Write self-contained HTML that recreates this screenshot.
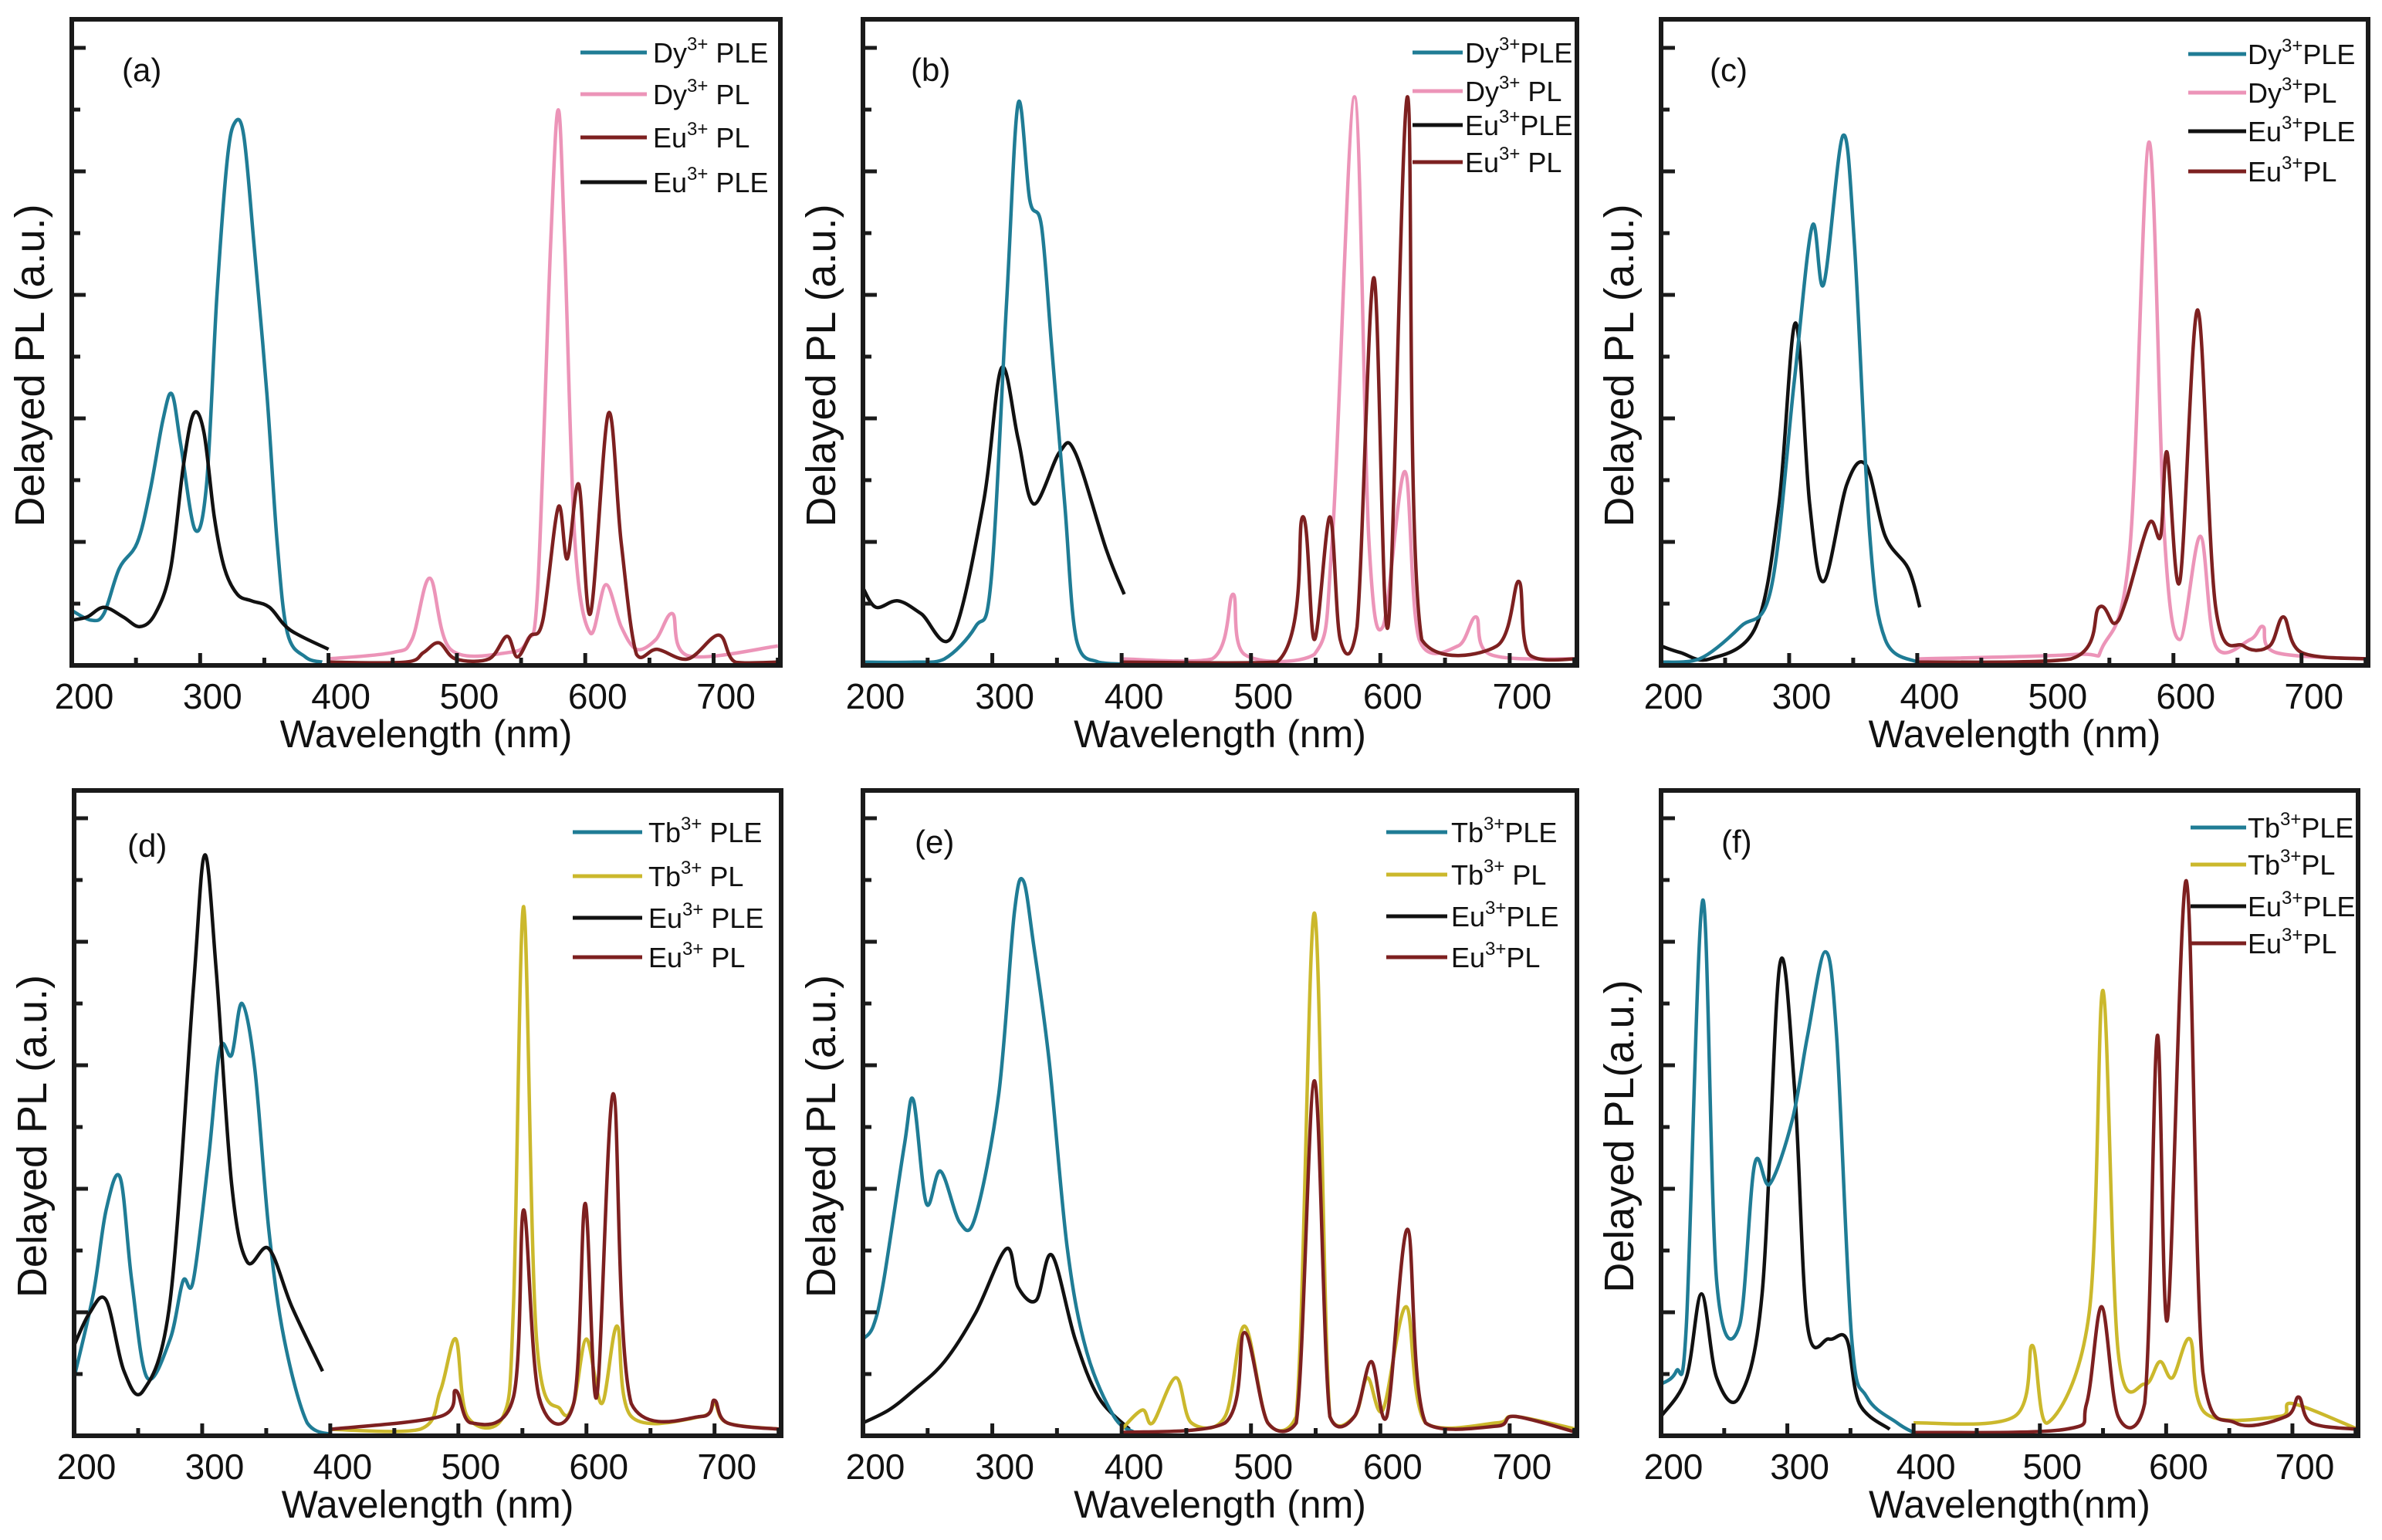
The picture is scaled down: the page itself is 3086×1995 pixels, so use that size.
<!DOCTYPE html>
<html><head><meta charset="utf-8"><style>
html,body{margin:0;padding:0;background:#fff;}
svg{display:block;font-family:"Liberation Sans",sans-serif;}
</style></head><body>
<svg id="fig" width="3086" height="1995" viewBox="0 0 3086 1995" xmlns="http://www.w3.org/2000/svg"></svg>
<script>
const NS="http://www.w3.org/2000/svg";
const C={teal:"#1f7c95",pink:"#ec94b8",red:"#7d2020",black:"#111111",yellow:"#cbb82c"};
// ---- data: wavelength (nm) and normalized intensity (fraction of frame height) ----
const aDyPLEwl=[200,215,225,237,251,261,271,278,285,296,305,313,321,327,334,342,352,360,368,382,395];
const aDyPLEv=[0.085,0.07,0.08,0.15,0.19,0.27,0.38,0.42,0.34,0.21,0.28,0.57,0.78,0.84,0.82,0.65,0.42,0.19,0.05,0.013,0.005];
const aEuPLEwl=[200,212,225,240,253,265,277,287,295,303,311,319,329,340,354,370,400];
const aEuPLEv=[0.07,0.075,0.09,0.075,0.06,0.08,0.15,0.31,0.39,0.36,0.23,0.15,0.11,0.1,0.09,0.055,0.025];
const aDyPLwl=[400,450,465,479,495,540,555,563,573,579,584,592,604,616,628,640,655,668,680,750];
const aDyPLv=[0.01,0.02,0.04,0.135,0.025,0.02,0.04,0.12,0.65,0.86,0.65,0.19,0.05,0.125,0.06,0.025,0.04,0.08,0.015,0.03];
const aEuPLwl=[400,460,474,486,499,525,539,547,557,567,579,586,595,604,618,628,640,656,680,704,717,750];
const aEuPLv=[0.005,0.005,0.02,0.035,0.01,0.01,0.045,0.013,0.045,0.07,0.245,0.165,0.28,0.08,0.39,0.19,0.017,0.025,0.01,0.047,0.005,0.005];

const bDyPLEwl=[200,239,263,287,299,311,320,329,338,346,356,365,382,400];
const bDyPLEv=[0.005,0.005,0.01,0.06,0.13,0.56,0.87,0.72,0.68,0.49,0.25,0.04,0.005,0.002];
const bEuPLEwl=[200,210,227,245,269,293,307,320,332,352,364,388,402];
const bEuPLEv=[0.12,0.09,0.1,0.08,0.045,0.25,0.46,0.35,0.25,0.33,0.33,0.18,0.11];
const bDyPLwl=[400,470,486,495,549,563,580,591,602,619,630,660,674,685,752];
const bDyPLv=[0.01,0.01,0.11,0.017,0.017,0.2,0.88,0.2,0.06,0.3,0.04,0.03,0.075,0.017,0.01];
const bEuPLwl=[400,520,540,549,561,569,582,595,606,621,632,690,707,715,752];
const bEuPLv=[0.005,0.005,0.23,0.04,0.23,0.04,0.06,0.6,0.06,0.88,0.04,0.03,0.13,0.017,0.01];

const cDyPLEwl=[200,230,262,286,304,318,327,342,351,363,375,400];
const cDyPLEv=[0.005,0.01,0.06,0.12,0.44,0.68,0.59,0.82,0.65,0.2,0.04,0.005];
const cEuPLEwl=[200,215,238,274,292,305,316,327,345,360,375,393,402];
const cEuPLEv=[0.03,0.02,0.01,0.06,0.25,0.53,0.25,0.13,0.28,0.31,0.2,0.15,0.09];
const cDyPLwl=[400,524,545,566,581,593,605,621,633,660,670,680,752];
const cDyPLv=[0.01,0.017,0.03,0.18,0.81,0.2,0.04,0.2,0.03,0.04,0.06,0.02,0.01];
const cEuPLwl=[400,520,542,554,563,581,590,595,605,619,633,655,675,686,700,752];
const cEuPLv=[0.005,0.01,0.09,0.065,0.1,0.22,0.2,0.33,0.13,0.55,0.09,0.03,0.03,0.075,0.02,0.01];

const dTbPLEwl=[200,215,225,236,245,257,275,285,293,305,314,323,331,341,352,364,382,400];
const dTbPLEv=[0.09,0.22,0.35,0.4,0.24,0.09,0.15,0.24,0.24,0.43,0.6,0.59,0.67,0.57,0.32,0.15,0.02,0.002];
const dEuPLEwl=[200,212,225,239,254,275,293,302,311,323,335,352,370,394];
const dEuPLEv=[0.14,0.19,0.21,0.1,0.07,0.21,0.69,0.9,0.72,0.39,0.27,0.29,0.2,0.1];
const dTbPLwl=[400,470,486,498,507,535,543,551,561,580,590,600,612,624,635,690,700,710,752];
const dTbPLv=[0.01,0.01,0.07,0.15,0.03,0.03,0.2,0.82,0.15,0.04,0.05,0.15,0.05,0.17,0.03,0.03,0.05,0.02,0.01];
const dEuPLwl=[400,486,498,510,543,551,563,590,599,608,621,635,690,700,710,752];
const dEuPLv=[0.01,0.03,0.07,0.02,0.06,0.35,0.06,0.05,0.36,0.06,0.53,0.05,0.03,0.055,0.02,0.01];

const eTbPLEwl=[200,208,216,232,239,249,260,275,287,305,317,324,332,344,358,373,394,410];
const eTbPLEv=[0.15,0.17,0.24,0.45,0.52,0.36,0.41,0.33,0.34,0.53,0.81,0.86,0.76,0.58,0.29,0.13,0.03,0.005];
const eEuPLEwl=[200,220,239,263,287,311,320,334,346,364,382,406];
const eEuPLEv=[0.02,0.04,0.07,0.115,0.19,0.29,0.23,0.21,0.28,0.15,0.06,0.01];
const eTbPLwl=[400,416,424,442,454,480,495,513,535,549,561,580,590,602,620,635,690,704,752];
const eTbPLv=[0.01,0.04,0.02,0.09,0.02,0.03,0.17,0.02,0.03,0.81,0.03,0.03,0.09,0.04,0.2,0.02,0.02,0.03,0.01];
const eEuPLwl=[400,480,495,513,535,549,561,580,593,605,621,635,690,704,752];
const eEuPLv=[0.005,0.02,0.16,0.02,0.02,0.55,0.03,0.03,0.115,0.03,0.32,0.02,0.015,0.03,0.005];

const fTbPLEwl=[200,212,220,233,244,262,274,286,304,316,330,339,351,363,387,400];
const fTbPLEv=[0.08,0.1,0.17,0.83,0.24,0.17,0.42,0.39,0.49,0.62,0.75,0.62,0.15,0.06,0.02,0.005];
const fEuPLEwl=[200,220,232,244,262,280,294,306,316,333,347,357,381];
const fEuPLEv=[0.03,0.09,0.22,0.09,0.06,0.22,0.73,0.53,0.17,0.15,0.15,0.05,0.01];
const fTbPLwl=[400,480,494,506,539,550,562,583,595,605,619,631,690,700,752];
const fTbPLv=[0.02,0.03,0.14,0.02,0.19,0.69,0.13,0.08,0.115,0.09,0.15,0.035,0.03,0.05,0.01];
const fEuPLwl=[400,520,537,549,562,583,593,601,616,629,655,695,705,715,752];
const fEuPLv=[0.005,0.01,0.05,0.2,0.03,0.05,0.62,0.18,0.86,0.1,0.02,0.03,0.06,0.02,0.01];

const xTicks=[200,300,400,500,600,700];
const xTickLabels=["200","300","400","500","600","700"];
const XMIN=200, XMAX=752;

const panels=[
 {id:"a",L:93,R:1011,T:25,B:862,label:"(a)",lx:158,ly:105,
  series:[[aDyPLEwl,aDyPLEv,"teal"],[aEuPLEwl,aEuPLEv,"black"],[aDyPLwl,aDyPLv,"pink"],[aEuPLwl,aEuPLv,"red"]],
  legend:{x1:752,x2:838,tx:846,ys:[68,122,178,236],items:[["teal","Dy","3+"," PLE"],["pink","Dy","3+"," PL"],["red","Eu","3+"," PL"],["black","Eu","3+"," PLE"]]},
  ylab:"Delayed PL (a.u.)",xlab:"Wavelength (nm)"},
 {id:"b",L:1118,R:2043,T:25,B:862,label:"(b)",lx:1180,ly:105,
  series:[[bEuPLEwl,bEuPLEv,"black"],[bDyPLEwl,bDyPLEv,"teal"],[bDyPLwl,bDyPLv,"pink"],[bEuPLwl,bEuPLv,"red"]],
  legend:{x1:1830,x2:1895,tx:1898,ys:[68,118,162,210],items:[["teal","Dy","3+","PLE"],["pink","Dy","3+"," PL"],["black","Eu","3+","PLE"],["red","Eu","3+"," PL"]]},
  ylab:"Delayed PL (a.u.)",xlab:"Wavelength (nm)"},
 {id:"c",L:2152,R:3068,T:25,B:862,label:"(c)",lx:2215,ly:105,
  series:[[cEuPLEwl,cEuPLEv,"black"],[cDyPLEwl,cDyPLEv,"teal"],[cDyPLwl,cDyPLv,"pink"],[cEuPLwl,cEuPLv,"red"]],
  legend:{x1:2835,x2:2910,tx:2912,ys:[70,120,170,222],items:[["teal","Dy","3+","PLE"],["pink","Dy","3+","PL"],["black","Eu","3+","PLE"],["red","Eu","3+","PL"]]},
  ylab:"Delayed PL (a.u.)",xlab:"Wavelength (nm)"},
 {id:"d",L:96,R:1012,T:1024,B:1860,label:"(d)",lx:165,ly:1110,
  series:[[dTbPLEwl,dTbPLEv,"teal"],[dEuPLEwl,dEuPLEv,"black"],[dTbPLwl,dTbPLv,"yellow"],[dEuPLwl,dEuPLv,"red"]],
  legend:{x1:742,x2:832,tx:840,ys:[1078,1135,1189,1240],items:[["teal","Tb","3+"," PLE"],["yellow","Tb","3+"," PL"],["black","Eu","3+"," PLE"],["red","Eu","3+"," PL"]]},
  ylab:"Delayed PL (a.u.)",xlab:"Wavelength (nm)"},
 {id:"e",L:1118,R:2043,T:1024,B:1860,label:"(e)",lx:1185,ly:1105,
  series:[[eEuPLEwl,eEuPLEv,"black"],[eTbPLEwl,eTbPLEv,"teal"],[eTbPLwl,eTbPLv,"yellow"],[eEuPLwl,eEuPLv,"red"]],
  legend:{x1:1796,x2:1875,tx:1880,ys:[1078,1133,1187,1240],items:[["teal","Tb","3+","PLE"],["yellow","Tb","3+"," PL"],["black","Eu","3+","PLE"],["red","Eu","3+","PL"]]},
  ylab:"Delayed PL (a.u.)",xlab:"Wavelength (nm)"},
 {id:"f",L:2152,R:3055,T:1024,B:1860,label:"(f)",lx:2230,ly:1105,
  series:[[fEuPLEwl,fEuPLEv,"black"],[fTbPLEwl,fTbPLEv,"teal"],[fTbPLwl,fTbPLv,"yellow"],[fEuPLwl,fEuPLv,"red"]],
  legend:{x1:2838,x2:2910,tx:2912,ys:[1072,1120,1174,1222],items:[["teal","Tb","3+","PLE"],["yellow","Tb","3+","PL"],["black","Eu","3+","PLE"],["red","Eu","3+","PL"]]},
  ylab:"Delayed PL(a.u.)",xlab:"Wavelength(nm)"}
];

const svg=document.getElementById("fig");
function mk(tag,attrs,parent){const e=document.createElementNS(NS,tag);for(const k in attrs)e.setAttribute(k,attrs[k]);(parent||svg).appendChild(e);return e;}
function smoothPath(P,yMax){
  let d="M"+P[0][0].toFixed(1)+","+P[0][1].toFixed(1);
  for(let i=0;i<P.length-1;i++){
    const p0=P[Math.max(0,i-1)],p1=P[i],p2=P[i+1],p3=P[Math.min(P.length-1,i+2)];
    const t=6;
    const c1=[p1[0]+(p2[0]-p0[0])/t,Math.min(yMax,p1[1]+(p2[1]-p0[1])/t)];
    const c2=[p2[0]-(p3[0]-p1[0])/t,Math.min(yMax,p2[1]-(p3[1]-p1[1])/t)];
    d+=" C"+c1[0].toFixed(1)+","+c1[1].toFixed(1)+" "+c2[0].toFixed(1)+","+c2[1].toFixed(1)+" "+p2[0].toFixed(1)+","+p2[1].toFixed(1);
  }
  return d;
}

panels.forEach(p=>{
  const g=mk("g",{});
  
  
  const xs=w=>p.L+(w-XMIN)/(XMAX-XMIN)*(p.R-p.L);
  const ys=v=>p.B-v*(p.B-p.T);
  p.series.forEach((s,i)=>{
    const P=s[0].map((w,j)=>[xs(w),ys(s[1][j])]);
    const pl=mk("path",{d:smoothPath(P,p.B-2),fill:"none",stroke:C[s[2]],"stroke-width":4.5,"stroke-linejoin":"round"},g);
    
    
  });
  const fr=mk("rect",{x:p.L,y:p.T,width:p.R-p.L,height:p.B-p.T,fill:"none",stroke:"#1a1a1a","stroke-width":6},g);
  
  
  xTicks.forEach((t,i)=>{
    const x=xs(t);
    mk("line",{x1:x,x2:x,y1:p.B,y2:p.B-16,stroke:"#1a1a1a","stroke-width":5},g);
    if(t+50<XMAX) mk("line",{x1:xs(t+50),x2:xs(t+50),y1:p.B,y2:p.B-10,stroke:"#1a1a1a","stroke-width":5},g);
    const tl=mk("text",{x:x+16,y:p.B+56,"font-size":46,"text-anchor":"middle",fill:"#111"},g);
    tl.textContent=xTickLabels[i];
    
    
  });
  for(let k=1;k*80<p.B-p.T-20;k++){
    const y=p.B-k*80;
    mk("line",{x1:p.L,x2:p.L+(k%2==0?18:11),y1:y,y2:y,stroke:"#1a1a1a","stroke-width":5},g);
  }
  const xt=mk("text",{x:(p.L+p.R)/2,y:p.B+106,"font-size":50,"text-anchor":"middle",fill:"#111"},g);
  xt.textContent=p.xlab;
  
  
  const cy=(p.T+p.B)/2+30, cx=p.L-36;
  const yt=mk("text",{x:cx,y:cy,"font-size":54,"text-anchor":"middle",fill:"#111",transform:"rotate(-90 "+cx+" "+cy+")"},g);
  yt.textContent=p.ylab;
  
  
  const pl=mk("text",{x:p.lx,y:p.ly,"font-size":42,fill:"#111"},g);
  pl.textContent=p.label;
  
  
  p.legend.items.forEach((it,i)=>{
    const y=p.legend.ys[i];
    const ln=mk("line",{x1:p.legend.x1,x2:p.legend.x2,y1:y,y2:y,stroke:C[it[0]],"stroke-width":5},g);
    
    
    const t=mk("text",{x:p.legend.tx,y:y+13,"font-size":36,fill:"#111"},g);
    
    
    const a=mk("tspan",{},t);a.textContent=it[1];
    const b=mk("tspan",{"font-size":24,dy:-16},t);b.textContent=it[2];
    const c=mk("tspan",{dy:16},t);c.textContent=it[3];
  });
});
</script>
</body></html>
